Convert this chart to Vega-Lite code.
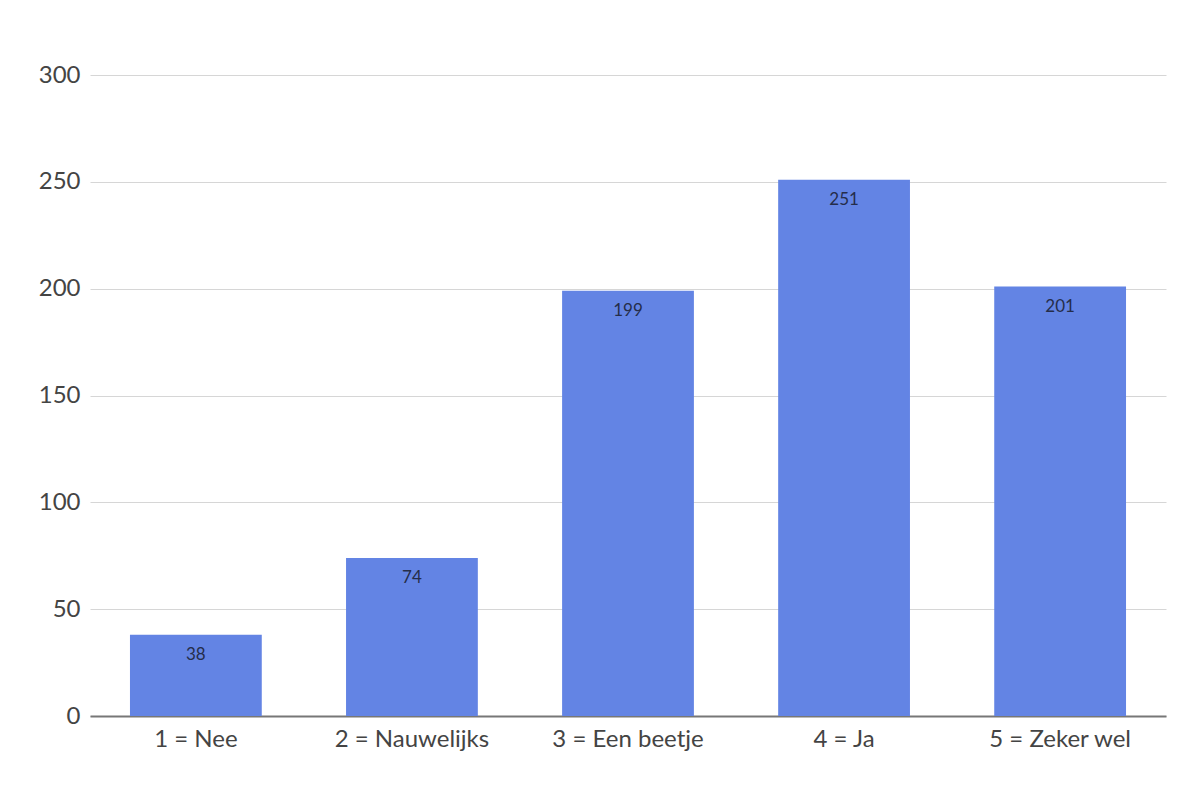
{
  "$schema": "https://vega.github.io/schema/vega-lite/v6.json",
  "width": 1076,
  "height": 641,
  "autosize": {"type": "none"},
  "padding": {"left": 90, "top": 75, "right": 34, "bottom": 84},
  "background": "white",
  "data": {
    "values": [
      {"answer": "1 = Nee", "count": 38},
      {"answer": "2 = Nauwelijks", "count": 74},
      {"answer": "3 = Een beetje", "count": 199},
      {"answer": "4 = Ja", "count": 251},
      {"answer": "5 = Zeker wel", "count": 201}
    ]
  },
  "encoding": {
    "x": {
      "field": "answer",
      "type": "nominal",
      "sort": null,
      "title": null,
      "scale": {"paddingInner": 0.39, "paddingOuter": 0.185},
      "axis": {
        "labelAngle": 0,
        "labelFont": "Lato",
        "labelFontSize": 24,
        "labelColor": "#444444",
        "labelPadding": 11,
        "ticks": false,
        "domainColor": "#777777",
        "domainWidth": 2,
        "grid": false
      }
    },
    "y": {
      "field": "count",
      "type": "quantitative",
      "title": null,
      "scale": {"domain": [0, 300]},
      "axis": {
        "values": [0, 50, 100, 150, 200, 250, 300],
        "labelFont": "Lato",
        "labelFontSize": 24,
        "labelColor": "#444444",
        "labelPadding": 10,
        "ticks": false,
        "domain": false,
        "gridColor": "#d6d6d6",
        "gridWidth": 1
      }
    }
  },
  "layer": [
    {"mark": {"type": "bar", "color": "#6384E4"}},
    {
      "mark": {
        "type": "text",
        "baseline": "top",
        "dy": 12,
        "font": "Lato",
        "fontSize": 17,
        "color": "#252D4A"
      },
      "encoding": {"text": {"field": "count", "type": "quantitative"}}
    }
  ],
  "config": {"view": {"stroke": null}}
}
